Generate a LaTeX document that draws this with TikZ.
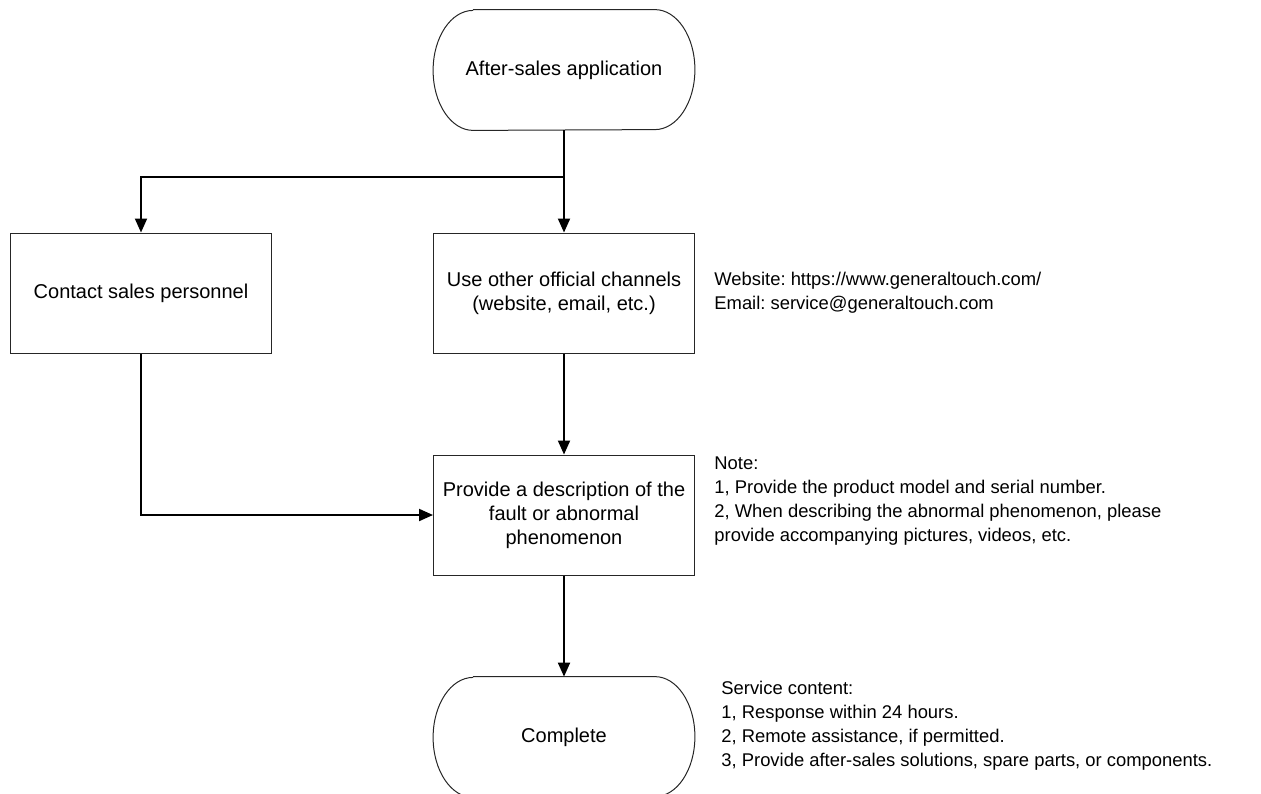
\documentclass[tikz,border=0pt]{standalone}
\usepackage{fontspec}
\setmainfont{Liberation Sans}
\usetikzlibrary{arrows.meta,positioning}

\begin{document}
\frenchspacing
\begin{tikzpicture}[x=0.5pt, y=-0.5pt, >={Triangle[length=7pt,width=6pt]},
  box/.style={draw=black!85, line width=0.5pt, minimum width=130.5pt, minimum height=60pt, align=center, inner sep=2pt},
  term/.style={minimum width=130.5pt, minimum height=60pt, align=center},
  note/.style={anchor=west, align=left, inner sep=0pt, font=\fontsize{9.2pt}{12pt}\selectfont},
  conn/.style={line width=1pt}]
  \useasboundingbox (0,0) rectangle (1261,793);
  \clip (0,0) rectangle (1261,793);
  \fontsize{10pt}{12pt}\selectfont

  % start terminal
  \node[term] (start) at (564,70) {After-sales application};
  \draw[black!85, line width=0.5pt] ([xshift=20pt]start.north west) -- ([xshift=-20pt]start.north east)
    arc[start angle=90, end angle=-90, x radius=20pt, y radius=30pt]
    -- ([xshift=20pt]start.south west)
    arc[start angle=270, end angle=90, x radius=20pt, y radius=30pt];

  % boxes
  \node[box] (sales) at (141,293) {Contact sales personnel};
  \node[box] (chan) at (564,293) {Use other official channels\\(website, email, etc.)};
  \node[box] (desc) at (564,515) {Provide a description of the\\fault or abnormal\\phenomenon};

  % end terminal
  \node[term] (done) at (564,737) {Complete};
  \draw[black!85, line width=0.5pt] ([xshift=20pt]done.north west) -- ([xshift=-20pt]done.north east)
    arc[start angle=90, end angle=-90, x radius=20pt, y radius=30pt]
    -- ([xshift=20pt]done.south west)
    arc[start angle=270, end angle=90, x radius=20pt, y radius=30pt];

  % notes
  \node[note] (web) at (714,293) {Website: https://www.generaltouch.com/\\Email: service@generaltouch.com};
  \node[note] (hint) at (714,501) {Note:\\1, Provide the product model and serial number.\\2, When describing the abnormal phenomenon, please\\provide accompanying pictures, videos, etc.};
  \node[note] (serv) at (721,726) {Service content:\\1, Response within 24 hours.\\2, Remote assistance, if permitted.\\3, Provide after-sales solutions, spare parts, or components.};

  % connectors
  \coordinate (split) at (564,177);
  \draw[conn] (start) -- (split);
  \draw[conn,->] (split) -| (sales);
  \draw[conn,->] (split) -- (chan);
  \draw[conn,->] (sales) |- (desc);
  \draw[conn,->] (chan) -- (desc);
  \draw[conn,->] (desc) -- (done);
\end{tikzpicture}
\end{document}
